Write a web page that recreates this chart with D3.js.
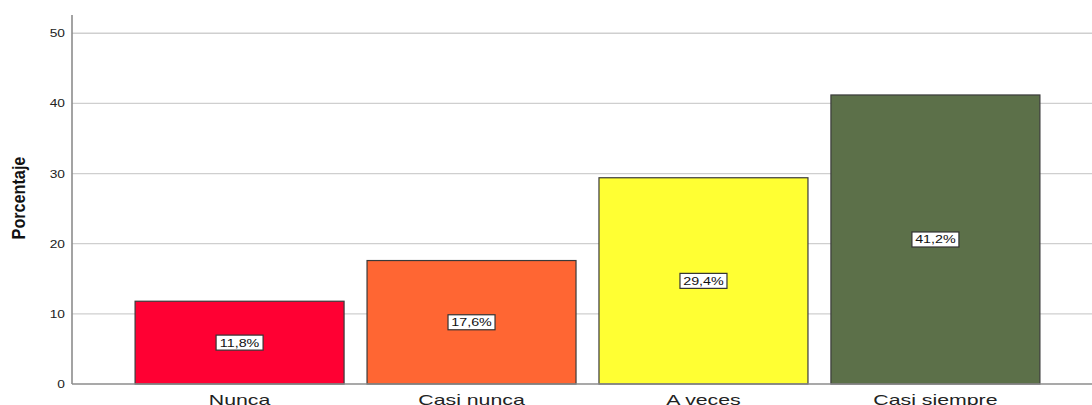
<!DOCTYPE html>
<html>
<head>
<meta charset="utf-8">
<script src="https://cdn.jsdelivr.net/npm/d3@7"></script>
<style>
  html, body { margin: 0; padding: 0; background: #fff; overflow: hidden; }
  svg { display: block; font-family: "Liberation Sans", Arial, sans-serif; }
</style>
</head>
<body>
<div id="chart"></div>
<script>
// data
const categories = ["Nunca", "Casi nunca", "A veces", "Casi siempre"];
const percents = [11.8, 17.6, 29.4, 41.2];
const barColors = ["#ff0033", "#ff6633", "#ffff33", "#5c7049"];
const yTicks = [0, 10, 20, 30, 40, 50];

const width = 1092, height = 405;
const x0 = 72, yBottom = 384, yTop = 15;

const svg = d3.select("#chart").append("svg")
    .attr("width", width)
    .attr("height", height);

// scales
const x = d3.scaleBand()
    .domain(categories)
    .range([x0, 1103])
    .paddingInner(0.099)
    .paddingOuter(0.272);

const y = d3.scaleLinear()
    .domain([0, 52.6])
    .range([yBottom, yTop]);

// gridlines
svg.append("g")
    .selectAll("line")
    .data(yTicks.filter(t => t > 0))
    .join("line")
    .attr("x1", x0)
    .attr("x2", width)
    .attr("y1", d => y(d))
    .attr("y2", d => y(d))
    .attr("stroke", "#cfcfcf")
    .attr("stroke-width", 1.3);

// bars
svg.append("g")
    .selectAll("rect")
    .data(percents)
    .join("rect")
    .attr("x", (d, i) => x(categories[i]))
    .attr("y", d => y(d))
    .attr("width", x.bandwidth())
    .attr("height", d => yBottom - y(d))
    .attr("fill", (d, i) => barColors[i])
    .attr("stroke", "#3a3a3a")
    .attr("stroke-width", 1.2);

// y axis (labels stretched a bit wider, like the reference render)
const yAxis = svg.append("g")
    .attr("transform", `translate(${x0},0)`)
    .call(d3.axisLeft(y).tickValues(yTicks).tickSize(0).tickPadding(0));
yAxis.select(".domain").remove();
yAxis.selectAll("text")
    .attr("x", null)
    .attr("transform", "translate(-7,0) scale(1.25,1)")
    .attr("font-size", 11)
    .attr("fill", "#222")
    .attr("font-family", "Liberation Sans, Arial, sans-serif");

svg.append("line")
    .attr("x1", x0).attr("x2", x0)
    .attr("y1", yTop).attr("y2", yBottom)
    .attr("stroke", "#8c8c8c")
    .attr("stroke-width", 1.6);

// baseline
svg.append("line")
    .attr("x1", x0).attr("x2", width)
    .attr("y1", yBottom).attr("y2", yBottom)
    .attr("stroke", "#8c8c8c")
    .attr("stroke-width", 1.3);

// category labels
svg.append("g")
    .selectAll("text")
    .data(categories)
    .join("text")
    .attr("transform", d => `translate(${x(d) + x.bandwidth() / 2},405) scale(1.42,1)`)
    .attr("text-anchor", "middle")
    .attr("font-size", 15)
    .attr("fill", "#222")
    .text(d => d);

// value labels in white boxes at half bar height
const fmt = v => v.toFixed(1).replace(".", ",") + "%";
const labels = svg.append("g")
    .selectAll("g")
    .data(percents)
    .join("g")
    .attr("transform", (d, i) =>
        `translate(${x(categories[i]) + x.bandwidth() / 2},${y(d / 2)})`);

labels.append("rect")
    .attr("x", -23.5)
    .attr("y", -7.5)
    .attr("width", 47)
    .attr("height", 15)
    .attr("fill", "#fff")
    .attr("stroke", "#333")
    .attr("stroke-width", 1.2);

labels.append("text")
    .attr("text-anchor", "middle")
    .attr("dy", "0.36em")
    .attr("transform", "scale(1.3,1)")
    .attr("font-size", 11)
    .attr("fill", "#111")
    .text(d => fmt(d));

// y axis title
svg.append("text")
    .attr("transform", "translate(25,198) rotate(-90) scale(0.9,1)")
    .attr("text-anchor", "middle")
    .attr("font-weight", "bold")
    .attr("font-size", 18)
    .attr("fill", "#111")
    .text("Porcentaje");
</script>
</body>
</html>
